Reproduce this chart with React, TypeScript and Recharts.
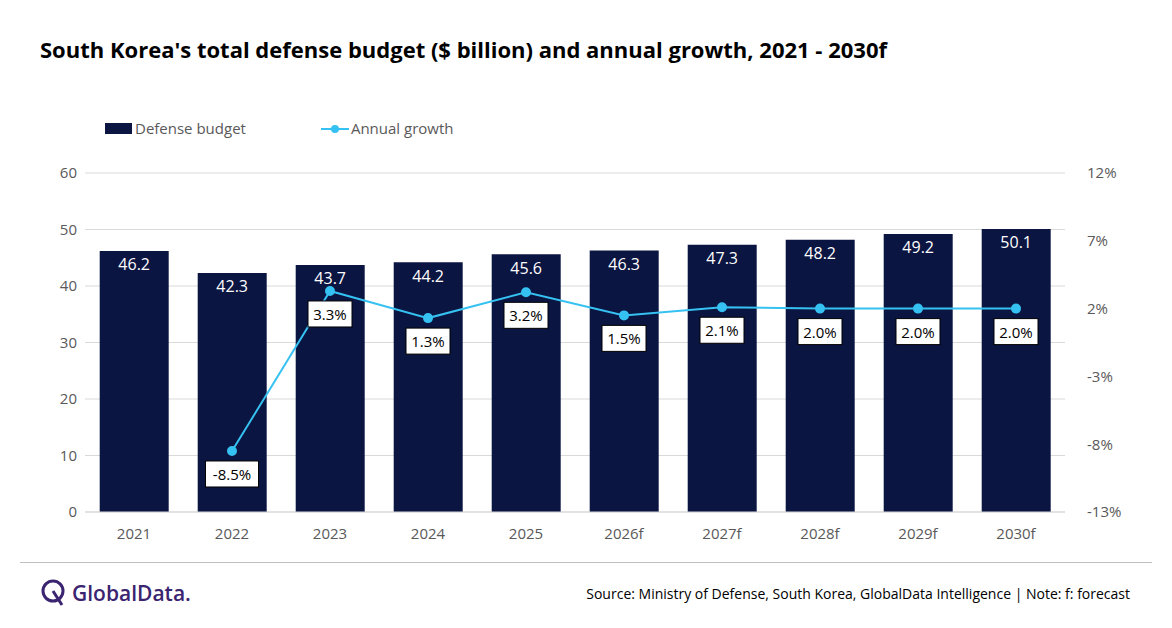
import { ComposedChart, Bar, Line, XAxis, YAxis, CartesianGrid, LabelList } from "recharts";

const years = ["2021", "2022", "2023", "2024", "2025", "2026f", "2027f", "2028f", "2029f", "2030f"];
const budget = [46.2, 42.3, 43.7, 44.2, 45.6, 46.3, 47.3, 48.2, 49.2, 50.1];
const growth: (number | null)[] = [null, -8.5, 3.3, 1.3, 3.2, 1.5, 2.1, 2.0, 2.0, 2.0];
const leftTicks = [0, 10, 20, 30, 40, 50, 60];
const rightTicks = [-13, -8, -3, 2, 7, 12];

const data = years.map((y, i) => ({ year: y, budget: budget[i], growth: growth[i] }));

const NAVY = "#0b1541";
const CYAN = "#35c1f1";
const FONT = "'Open Sans', Arial, sans-serif";

function GrowthLabel(props: any) {
  const { x, y, value } = props;
  if (value == null) return null;
  const t = `${Number(value).toFixed(1)}%`;
  const w = t.length * 9 + 8;
  return (
    <g>
      <rect x={x - w / 2} y={y + 10} width={w} height={26} fill="#fff" stroke="#000" strokeWidth={1} />
      <text x={x} y={y + 29} textAnchor="middle" fontSize={15} fill="#000" fontFamily={FONT}>{t}</text>
    </g>
  );
}

export default function App() {
  return (
    <div style={{ position: "relative", width: 1172, height: 628, margin: -8, background: "#fff", fontFamily: FONT, overflow: "hidden" }}>
      <div style={{ position: "absolute", left: 40, top: 34, fontSize: 22, fontWeight: 700, color: "#000", whiteSpace: "nowrap" }}>
        South Korea's total defense budget ($ billion) and annual growth, 2021 - 2030f
      </div>
      <div style={{ position: "absolute", top: 118, left: 105, display: "flex", alignItems: "center", fontSize: 15, color: "#595959" }}>
        <span style={{ width: 27, height: 11, background: NAVY, display: "inline-block", marginRight: 3 }} />
        Defense budget
        <span style={{ marginLeft: 75, position: "relative", width: 28, height: 11, display: "inline-block", marginRight: 2 }}>
          <span style={{ position: "absolute", left: 0, right: 0, top: 5, height: 2, background: CYAN }} />
          <span style={{ position: "absolute", left: 10, top: 2, width: 8, height: 8, borderRadius: 4, background: CYAN }} />
        </span>
        Annual growth
      </div>
      <div style={{ position: "absolute", top: 0, left: 0 }}>
        <ComposedChart width={1172} height={560} data={data} margin={{ top: 173, bottom: 18, left: 45, right: 47 }} barCategoryGap="15%">
          <CartesianGrid yAxisId="l" vertical={false} stroke="#d9d9d9" />
          <XAxis dataKey="year" height={30} tickLine={false} axisLine={{ stroke: "#d9d9d9" }} tick={{ fontSize: 15, fill: "#595959", fontFamily: FONT }} tickMargin={10} />
          <YAxis yAxisId="l" width={40} domain={[0, 60]} ticks={leftTicks} tickLine={false} axisLine={false} tick={{ fontSize: 15, fill: "#595959", fontFamily: FONT }} />
          <YAxis yAxisId="r" orientation="right" width={60} domain={[-13, 12]} ticks={rightTicks} tickFormatter={(v) => `${v}%`} tickLine={false} axisLine={false} tick={{ fontSize: 15, fill: "#595959", fontFamily: FONT }} tickMargin={16} />
          <Bar yAxisId="l" dataKey="budget" fill={NAVY} isAnimationActive={false}>
            <LabelList dataKey="budget" position="insideTop" offset={8} fill="#fff" fontSize={16} fontFamily={FONT} formatter={(v: any) => Number(v).toFixed(1)} />
          </Bar>
          <Line yAxisId="r" dataKey="growth" stroke={CYAN} strokeWidth={2} dot={{ r: 4, fill: CYAN, stroke: CYAN }} isAnimationActive={false} connectNulls={false}>
            <LabelList dataKey="growth" content={GrowthLabel} />
          </Line>
        </ComposedChart>
      </div>
      <div style={{ position: "absolute", left: 20, right: 20, top: 562, height: 1, background: "#bfbfbf" }} />
      <div style={{ position: "absolute", left: 40, top: 578, display: "flex", alignItems: "center", color: "#3b2470", fontSize: 21, fontWeight: 600 }}>
        <svg width={28} height={30} viewBox="0 0 28 30" style={{ marginRight: 4 }}>
          <circle cx={13} cy={13} r={10} fill="none" stroke="#3b2470" strokeWidth={3} />
          <path d="M13 13 L22 27" stroke="#3b2470" strokeWidth={3} />
        </svg>
        GlobalData.
      </div>
      <div style={{ position: "absolute", right: 42, top: 584, fontSize: 14, color: "#000" }}>
        Source: Ministry of Defense, South Korea, GlobalData Intelligence | Note: f: forecast
      </div>
    </div>
  );
}
